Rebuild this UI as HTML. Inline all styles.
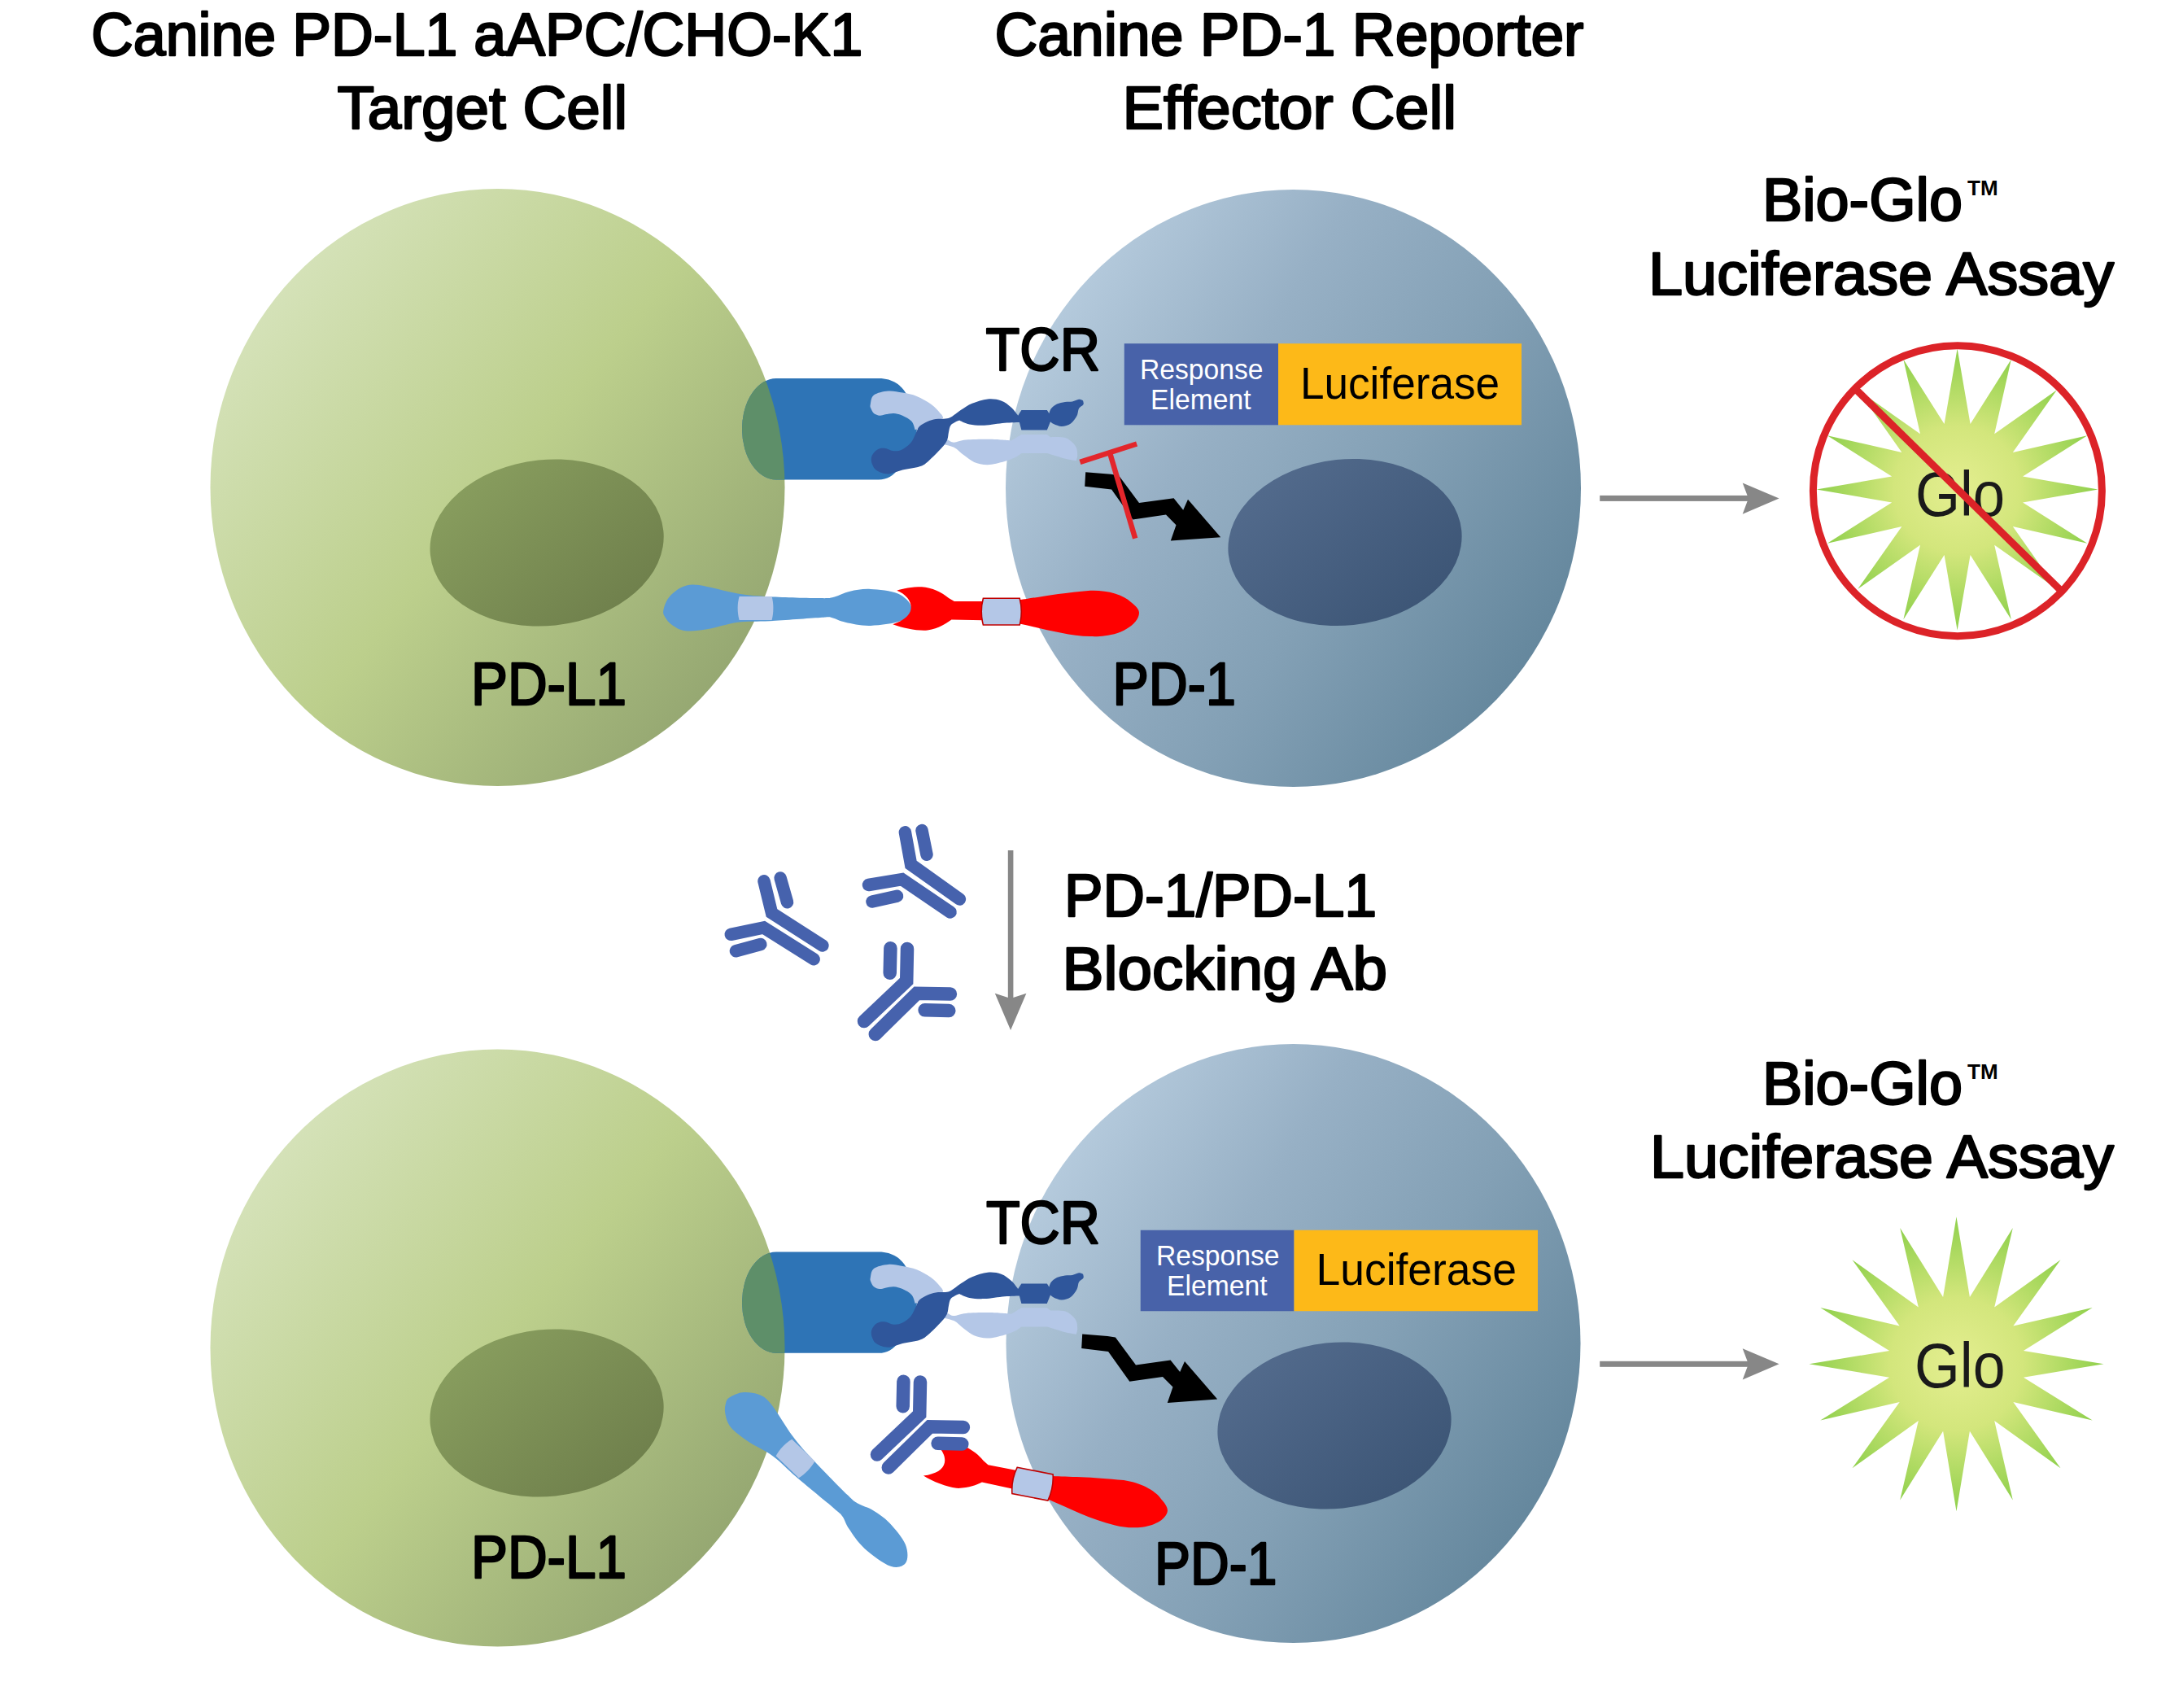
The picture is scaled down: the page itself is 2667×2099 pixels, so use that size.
<!DOCTYPE html>
<html><head><meta charset="utf-8"><style>
html,body{margin:0;padding:0;background:#fff;}
body{width:2667px;height:2099px;overflow:hidden;}
svg{display:block;}
text{font-family:"Liberation Sans",sans-serif;}
</style></head><body>
<svg width="2667" height="2099" viewBox="0 0 2667 2099">
<defs>
<linearGradient id="gG" x1="0.03" y1="0.1" x2="0.97" y2="0.9">
<stop offset="0" stop-color="#dae6c2"/><stop offset="0.5" stop-color="#bccf8c"/><stop offset="1" stop-color="#8d9f6c"/>
</linearGradient>
<linearGradient id="gB" x1="0.05" y1="0.2" x2="0.95" y2="0.8">
<stop offset="0" stop-color="#b8cddf"/><stop offset="0.33" stop-color="#97b0c5"/><stop offset="0.62" stop-color="#83a0b5"/><stop offset="1" stop-color="#62859b"/>
</linearGradient>
<linearGradient id="nG" x1="0" y1="0" x2="1" y2="1">
<stop offset="0" stop-color="#8ca261"/><stop offset="1" stop-color="#6b7b49"/>
</linearGradient>
<linearGradient id="nB" x1="0" y1="0" x2="1" y2="1">
<stop offset="0" stop-color="#566e90"/><stop offset="1" stop-color="#395272"/>
</linearGradient>
<radialGradient id="gS" cx="0.5" cy="0.5" r="0.5">
<stop offset="0" stop-color="#e4ee90"/><stop offset="0.45" stop-color="#d3e67c"/><stop offset="1" stop-color="#8fd04c"/>
</radialGradient>
<clipPath id="cG1"><ellipse cx="611.5" cy="599" rx="353" ry="367"/></clipPath>
<clipPath id="cG2"><ellipse cx="611.5" cy="583.1" rx="353" ry="367"/></clipPath>
<g id="tcr">
<path d="M954,465 L1080,465 C1098,465 1108,474 1114,484 L1124,515 C1128,525 1128,535 1122,545 L1105,575 C1098,585 1090,589.4 1080,589.4 L954,589.4 A42,62.2 0 0 1 954,465 Z" fill="#2e74b6"/>
<path d="M1069.8,496.7 C1070.4,494.0 1070.4,488.2 1074.0,485.5 C1077.6,482.8 1085.7,481.0 1091.6,480.5 C1097.5,480.0 1103.3,481.5 1109.2,482.6 C1115.1,483.7 1120.9,484.5 1126.7,486.9 C1132.5,489.2 1139.2,493.0 1144.3,496.7 C1149.3,500.4 1154.5,506.4 1157.0,509.3 C1159.5,512.2 1159.0,514.0 1159.0,514.0 C1159.0,514.0 1145.7,519.6 1140.0,522.0 C1134.3,524.4 1124.6,528.3 1124.6,528.3 C1124.6,528.3 1123.0,520.7 1120.4,517.8 C1117.8,514.9 1112.8,512.4 1109.2,510.7 C1105.6,509.1 1102.1,508.1 1098.6,507.9 C1095.1,507.7 1091.0,508.8 1088.1,509.3 C1085.2,509.8 1083.4,510.9 1081.1,510.7 C1078.8,510.5 1075.8,509.4 1074.0,507.9 C1072.2,506.4 1070.9,503.5 1070.2,501.6 C1069.5,499.7 1069.2,499.4 1069.8,496.7 Z" fill="#b4c7e7"/>
<path d="M1158.0,537.0 C1158.0,537.0 1162.6,539.4 1165.0,540.5 C1167.4,541.6 1168.7,543.7 1172.4,543.7 C1176.1,543.7 1179.8,541.2 1187.4,540.5 C1195.0,539.8 1208.7,539.6 1218.0,539.7 C1227.3,539.9 1243.0,541.4 1243.0,541.4 C1243.0,541.4 1255.4,533.9 1255.4,533.9 C1255.4,533.9 1286.9,533.9 1286.9,533.9 C1286.9,533.9 1291.0,537.2 1291.0,537.2 C1291.0,537.2 1304.2,536.3 1309.3,538.1 C1314.4,539.9 1319.2,544.4 1321.7,548.0 C1324.2,551.6 1324.1,556.6 1324.2,559.6 C1324.3,562.6 1322.6,566.3 1322.6,566.3 C1322.6,566.3 1314.3,565.0 1309.3,563.8 C1304.3,562.5 1292.7,558.8 1292.7,558.8 C1292.7,558.8 1286.9,557.1 1286.9,557.1 C1286.9,557.1 1255.4,557.1 1255.4,557.1 C1255.4,557.1 1250.0,561.0 1250.0,561.0 C1250.0,561.0 1240.7,565.4 1234.7,567.1 C1228.7,568.8 1220.1,571.1 1213.9,571.2 C1207.7,571.3 1202.1,569.8 1197.3,567.9 C1192.5,566.0 1189.1,562.6 1184.9,559.6 C1180.8,556.6 1176.9,552.0 1172.4,549.7 C1167.9,547.4 1158.0,546.0 1158.0,546.0 C1158.0,546.0 1158.0,537.0 1158.0,537.0 Z" fill="#b4c7e7"/>
<path d="M1071.2,561.3 C1072.1,558.4 1075.0,554.6 1077.6,552.9 C1080.2,551.1 1083.2,550.6 1086.7,550.8 C1090.2,551.0 1094.8,554.1 1098.6,554.3 C1102.3,554.5 1105.7,554.0 1109.2,552.2 C1112.7,550.5 1117.0,547.0 1119.7,543.8 C1122.4,540.6 1123.6,536.5 1125.3,533.2 C1127.0,529.9 1127.5,526.5 1130.0,524.0 C1132.5,521.5 1136.7,519.5 1140.0,518.0 C1143.3,516.5 1146.3,515.6 1150.0,515.0 C1153.7,514.4 1158.8,514.9 1161.9,514.5 C1165.1,514.1 1165.8,514.3 1168.9,512.6 C1172.0,510.9 1176.4,506.9 1180.7,504.1 C1185.0,501.3 1189.3,498.1 1194.8,495.8 C1200.3,493.5 1208.0,491.0 1213.9,490.4 C1219.9,489.8 1225.7,490.7 1230.5,492.4 C1235.3,494.1 1239.5,497.6 1242.9,500.7 C1246.4,503.8 1251.2,510.7 1251.2,510.7 C1251.2,510.7 1255.4,504.1 1255.4,504.1 C1255.4,504.1 1286.9,504.1 1286.9,504.1 C1286.9,504.1 1289.4,508.2 1289.4,508.2 C1289.4,508.2 1290.4,503.9 1292.0,502.0 C1293.6,500.1 1296.2,497.8 1299.0,496.5 C1301.8,495.2 1305.8,494.5 1309.0,494.0 C1312.2,493.5 1315.2,494.0 1318.0,493.5 C1320.8,493.0 1323.8,491.0 1326.0,490.8 C1328.2,490.6 1331.0,492.4 1331.0,492.4 C1331.0,492.4 1332.3,495.4 1331.5,497.0 C1330.7,498.6 1327.3,499.7 1326.0,502.0 C1324.7,504.3 1325.2,507.9 1323.5,511.0 C1321.8,514.1 1319.1,518.3 1316.0,520.5 C1312.9,522.7 1308.5,523.9 1305.0,524.0 C1301.5,524.1 1297.3,522.0 1295.0,521.0 C1292.7,520.0 1291.0,518.2 1291.0,518.2 C1291.0,518.2 1286.9,528.5 1286.9,528.5 C1286.9,528.5 1255.4,528.5 1255.4,528.5 C1255.4,528.5 1252.9,519.0 1252.9,519.0 C1252.9,519.0 1241.9,519.2 1234.7,519.8 C1227.5,520.4 1217.0,522.4 1209.8,522.7 C1202.6,523.0 1196.6,522.5 1191.5,521.5 C1186.4,520.5 1179.1,516.5 1179.1,516.5 C1179.1,516.5 1171.2,519.6 1169.0,522.0 C1166.8,524.4 1166.8,527.8 1166.0,531.0 C1165.2,534.2 1165.5,537.7 1164.0,541.0 C1162.5,544.3 1160.9,546.5 1157.0,550.8 C1153.1,555.1 1145.2,563.1 1140.8,566.9 C1136.3,570.6 1135.6,571.5 1130.3,573.3 C1125.0,575.1 1115.7,576.0 1109.2,577.5 C1102.8,579.0 1096.9,582.3 1091.6,582.4 C1086.3,582.5 1080.9,580.2 1077.6,578.2 C1074.3,576.2 1073.1,573.3 1072.0,570.5 C1070.9,567.7 1070.3,564.2 1071.2,561.3 Z" fill="#2f569b"/>
</g>
<g id="pdl1"><path d="M815.5,749.2 C816.4,745.2 818.5,738.4 822.5,733.7 C826.5,729.0 833.3,723.5 839.4,721.1 C845.5,718.7 847.8,717.7 859.0,719.1 C870.2,720.5 892.3,727.1 906.8,729.5 C921.3,731.9 929.3,732.3 946.2,733.2 C963.1,734.1 994.9,735.0 1008.0,735.1 C1021.1,735.2 1018.8,735.1 1024.9,733.7 C1031.0,732.3 1037.1,728.3 1044.6,726.7 C1052.1,725.1 1060.1,723.4 1069.9,723.9 C1079.7,724.4 1095.2,725.8 1103.6,729.5 C1111.9,733.2 1119.1,740.5 1120.0,746.0 C1120.9,751.5 1117.5,758.5 1109.2,762.3 C1100.9,766.1 1081.6,768.5 1069.9,768.9 C1058.2,769.3 1047.0,766.4 1039.0,764.7 C1031.0,763.1 1027.3,760.0 1022.1,759.0 C1016.9,758.0 1020.6,758.3 1008.0,759.0 C995.4,759.7 963.1,762.3 946.2,763.3 C929.3,764.2 919.4,763.1 906.8,764.7 C894.1,766.3 881.1,771.3 870.3,773.1 C859.5,774.9 849.7,776.2 842.2,775.3 C834.7,774.4 829.5,770.5 825.3,767.5 C821.1,764.5 818.5,760.6 816.9,757.6 C815.3,754.6 814.6,753.2 815.5,749.2 Z" fill="#5b9bd5"/><path d="M908.6,732.9 L948.6,732.9 C951,742 951,752 948.6,762.1 L908.6,762.1 C906,752 906,742 908.6,732.9 Z" fill="#b4c7e7"/></g>
<g id="pd1"><path d="M1102.3,725.7 C1110,723 1120,721.2 1133,721.2 C1145,722 1158,728 1166,735 L1172.8,739 L1208.4,739 L1253.2,737.3 C1270,735 1300,729 1340,725.7 C1360,725 1380,730 1390,740 C1398,746 1400,750 1400,753.1 C1400,762 1390,772 1373.5,778 C1360,782 1350,782.5 1340,782.1 C1310,781 1280,772 1253.2,766.4 L1208.4,762.2 L1169.4,761.4 C1163,766 1155,772 1140,774.5 C1128,775.5 1110,772 1097.3,767.2 C1112,762 1119.7,755 1119.7,746.4 C1119.7,738 1113,730 1102.3,725.7 Z" fill="#ff0000"/><path d="M1208.4,735.2 L1253.2,735.2 C1256,746 1256,757 1253.2,768 L1208.4,768 C1205.5,757 1205.5,746 1208.4,735.2 Z" fill="#b4c7e7" stroke="#c00000" stroke-width="1.6"/></g>
<polygon id="bolt" points="1334.2,580.3 1365.2,582.8 1374.9,584.2 1400,618.1 1442.6,612.3 1454.2,626.8 1460,613.7 1500.2,660.2 1438.8,664.6 1445.5,645.2 1433,632.6 1392.3,638.4 1366.1,601.6 1333.2,597.8" fill="#000"/>
</defs>
<!-- cells -->
<ellipse cx="611.5" cy="599" rx="353" ry="367" fill="url(#gG)"/>
<ellipse cx="672" cy="667" rx="144" ry="102" fill="url(#nG)" transform="rotate(-6 672 666)"/>
<ellipse cx="1589.5" cy="600" rx="353.5" ry="367" fill="url(#gB)"/>
<ellipse cx="1653" cy="666.5" rx="144" ry="102" fill="url(#nB)" transform="rotate(-6 1653 666.5)"/>
<ellipse cx="611.5" cy="1656.5" rx="353" ry="367" fill="url(#gG)"/>
<ellipse cx="672" cy="1736.5" rx="144" ry="102.5" fill="url(#nG)" transform="rotate(-6 672 1736)"/>
<ellipse cx="1589.5" cy="1651" rx="353" ry="368" fill="url(#gB)"/>
<ellipse cx="1640" cy="1752" rx="144" ry="102" fill="url(#nB)" transform="rotate(-6 1640 1752)"/>
<!-- complexes -->
<use href="#tcr"/>
<use href="#tcr" transform="translate(0,1073.4)"/>
<path d="M954,465 L1080,465 C1098,465 1108,474 1114,484 L1124,515 C1128,525 1128,535 1122,545 L1105,575 C1098,585 1090,589.4 1080,589.4 L954,589.4 A42,62.2 0 0 1 954,465 Z" fill="#5e8f69" clip-path="url(#cG1)"/>
<path d="M954,465 L1080,465 C1098,465 1108,474 1114,484 L1124,515 C1128,525 1128,535 1122,545 L1105,575 C1098,585 1090,589.4 1080,589.4 L954,589.4 A42,62.2 0 0 1 954,465 Z" fill="#5e8f69" clip-path="url(#cG2)" transform="translate(0,1073.4)"/>
<use href="#pdl1"/>
<use href="#pd1"/>
<use href="#pdl1" transform="translate(977.5,1792.5) rotate(43.8) scale(0.975) translate(-928.6,-747.5)"/>
<use href="#pd1" transform="translate(1269,1823.7) rotate(11) translate(-1230.8,-751.6)"/>
<!-- bolts -->
<use href="#bolt"/>
<use href="#bolt" transform="translate(-4,1059.3)"/>
<g stroke="#e3262b" stroke-width="6.5" stroke-linecap="butt">
<line x1="1327.4" y1="567.8" x2="1397.1" y2="545.5"/>
<line x1="1364.2" y1="557.1" x2="1395.2" y2="661.7"/>
</g>
<!-- boxes -->
<rect x="1381.75" y="422.2" width="189.25" height="100.1" fill="#4862a9"/>
<rect x="1571" y="422.2" width="299" height="100.1" fill="#fdb918"/>
<rect x="1401.75" y="1511.75" width="188.75" height="99.5" fill="#4862a9"/>
<rect x="1590.5" y="1511.75" width="299.5" height="99.5" fill="#fdb918"/>
<!-- antibodies -->
<g fill="none" stroke="#4662ad" stroke-width="15.5" stroke-linecap="round" stroke-linejoin="miter"><polyline points="939.0,1082.8 948.5,1122.0 1010.9,1162.0"/><polyline points="959.1,1079.0 967.5,1108.7"/><polyline points="898.3,1148.3 938.6,1139.9 1000.2,1178.7"/><polyline points="904.4,1168.8 934.8,1160.5"/></g>
<g fill="none" stroke="#4662ad" stroke-width="15.5" stroke-linecap="round" stroke-linejoin="miter"><polyline points="1112.4,1022.8 1119.6,1062.4 1179.4,1105.0"/><polyline points="1133.0,1020.5 1139.0,1050.2"/><polyline points="1067.5,1087.5 1108.6,1080.7 1168.0,1121.0"/><polyline points="1072.0,1108.0 1102.5,1101.2"/></g>
<g fill="none" stroke="#4662ad" stroke-width="16.5" stroke-linecap="round" stroke-linejoin="miter"><polyline points="1115.0,1166.0 1114.2,1205.6 1062.0,1255.0"/><polyline points="1094.4,1165.2 1093.7,1195.7"/><polyline points="1167.9,1221.5 1126.8,1220.8 1075.8,1271.0"/><polyline points="1136.6,1241.3 1166.3,1242.1"/></g>
<g fill="none" stroke="#4662ad" stroke-width="16.5" stroke-linecap="round" stroke-linejoin="miter"><polyline points="1131.0,1698.5 1130.2,1738.1 1078.0,1787.5"/><polyline points="1110.4,1697.7 1109.7,1728.2"/><polyline points="1183.9,1754.0 1142.8,1753.3 1091.8,1803.5"/><polyline points="1152.6,1773.8 1182.3,1774.6"/></g>
<!-- arrows -->
<g fill="#878787">
<rect x="1966.2" y="608.9" width="185" height="7"/>
<polygon points="2141.7,593.4 2186.6,612.5 2141.7,631.7 2148.9,612.5"/>
<rect x="1966.2" y="1672.8" width="185" height="7"/>
<polygon points="2141.7,1657.3 2186.6,1676.3 2141.7,1695.5 2148.9,1676.3"/>
<rect x="1238.8" y="1045" width="6.6" height="186"/>
<polygon points="1222.8,1220.8 1242.1,1266 1261.4,1220.8 1242.1,1227"/>
</g>
<!-- stars -->
<polygon points="2405.6,428.5 2421.6,521.1 2471.8,441.7 2451.2,533.3 2527.9,479.2 2473.8,555.9 2565.4,535.3 2486.0,585.5 2578.6,601.5 2486.0,617.5 2565.4,667.7 2473.8,647.1 2527.9,723.8 2451.2,669.7 2471.8,761.3 2421.6,681.9 2405.6,774.5 2389.6,681.9 2339.4,761.3 2360.0,669.7 2283.3,723.8 2337.4,647.1 2245.8,667.7 2325.2,617.5 2232.6,601.5 2325.2,585.5 2245.8,535.3 2337.4,555.9 2283.3,479.2 2360.0,533.3 2339.4,441.7 2389.6,521.1" fill="url(#gS)"/>
<polygon points="2404.5,1495.3 2420.9,1593.9 2473.8,1509.1 2451.2,1606.5 2532.5,1548.3 2474.3,1629.6 2571.7,1607.0 2486.9,1659.9 2585.5,1676.3 2486.9,1692.7 2571.7,1745.6 2474.3,1723.0 2532.5,1804.3 2451.2,1746.1 2473.8,1843.5 2420.9,1758.7 2404.5,1857.3 2388.1,1758.7 2335.2,1843.5 2357.8,1746.1 2276.5,1804.3 2334.7,1723.0 2237.3,1745.6 2322.1,1692.7 2223.5,1676.3 2322.1,1659.9 2237.3,1607.0 2334.7,1629.6 2276.5,1548.3 2357.8,1606.5 2335.2,1509.1 2388.1,1593.9" fill="url(#gS)"/>
<!-- texts -->
<text x="112.0" y="67.9" font-size="73.5" fill="#000" stroke="#000" stroke-width="2.4" stroke-linejoin="round" textLength="948.5" lengthAdjust="spacingAndGlyphs">Canine PD-L1 aAPC/CHO-K1</text>
<text x="414.5" y="157.8" font-size="73.5" fill="#000" stroke="#000" stroke-width="2.4" stroke-linejoin="round" textLength="356.5" lengthAdjust="spacingAndGlyphs">Target Cell</text>
<text x="1222.5" y="67.9" font-size="73.5" fill="#000" stroke="#000" stroke-width="2.4" stroke-linejoin="round" textLength="724.0" lengthAdjust="spacingAndGlyphs">Canine PD-1 Reporter</text>
<text x="1379.5" y="157.8" font-size="73.5" fill="#000" stroke="#000" stroke-width="2.4" stroke-linejoin="round" textLength="410.5" lengthAdjust="spacingAndGlyphs">Effector Cell</text>
<text x="2166.0" y="271.1" font-size="73.5" fill="#000" stroke="#000" stroke-width="2.4" stroke-linejoin="round" textLength="246.0" lengthAdjust="spacingAndGlyphs">Bio-Glo</text>
<text x="2026.0" y="361.8" font-size="73.5" fill="#000" stroke="#000" stroke-width="2.4" stroke-linejoin="round" textLength="572.0" lengthAdjust="spacingAndGlyphs">Luciferase Assay</text>
<text x="2166.0" y="1356.8" font-size="73.5" fill="#000" stroke="#000" stroke-width="2.4" stroke-linejoin="round" textLength="246.0" lengthAdjust="spacingAndGlyphs">Bio-Glo</text>
<text x="2028.0" y="1446.8" font-size="73.5" fill="#000" stroke="#000" stroke-width="2.4" stroke-linejoin="round" textLength="570.0" lengthAdjust="spacingAndGlyphs">Luciferase Assay</text>
<text x="1211.5" y="454.8" font-size="73.5" fill="#000" stroke="#000" stroke-width="2.4" stroke-linejoin="round" textLength="140.5" lengthAdjust="spacingAndGlyphs">TCR</text>
<text x="1212.0" y="1527.6" font-size="73.5" fill="#000" stroke="#000" stroke-width="2.4" stroke-linejoin="round" textLength="140.0" lengthAdjust="spacingAndGlyphs">TCR</text>
<text x="579.0" y="865.6" font-size="73.5" fill="#000" stroke="#000" stroke-width="2.4" stroke-linejoin="round" textLength="191.0" lengthAdjust="spacingAndGlyphs">PD-L1</text>
<text x="1367.5" y="865.6" font-size="73.5" fill="#000" stroke="#000" stroke-width="2.4" stroke-linejoin="round" textLength="151.5" lengthAdjust="spacingAndGlyphs">PD-1</text>
<text x="579.0" y="1938.6" font-size="73.5" fill="#000" stroke="#000" stroke-width="2.4" stroke-linejoin="round" textLength="191.0" lengthAdjust="spacingAndGlyphs">PD-L1</text>
<text x="1419.0" y="1946.8" font-size="73.5" fill="#000" stroke="#000" stroke-width="2.4" stroke-linejoin="round" textLength="150.5" lengthAdjust="spacingAndGlyphs">PD-1</text>
<text x="1308.0" y="1125.6" font-size="73.5" fill="#000" stroke="#000" stroke-width="2.4" stroke-linejoin="round" textLength="384.0" lengthAdjust="spacingAndGlyphs">PD-1/PD-L1</text>
<text x="1305.5" y="1215.8" font-size="73.5" fill="#000" stroke="#000" stroke-width="2.4" stroke-linejoin="round" textLength="399.5" lengthAdjust="spacingAndGlyphs">Blocking Ab</text>
<text x="1401.0" y="466" font-size="35" font-weight="normal" fill="#fff" textLength="151.5" lengthAdjust="spacingAndGlyphs">Response</text>
<text x="1414.0" y="502.8" font-size="35" font-weight="normal" fill="#fff" textLength="123.5" lengthAdjust="spacingAndGlyphs">Element</text>
<text x="1598.0" y="490" font-size="55" font-weight="normal" fill="#000" textLength="245.0" lengthAdjust="spacingAndGlyphs">Luciferase</text>
<text x="1421.0" y="1555.2" font-size="35" font-weight="normal" fill="#fff" textLength="151.5" lengthAdjust="spacingAndGlyphs">Response</text>
<text x="1434.0" y="1592.3" font-size="35" font-weight="normal" fill="#fff" textLength="123.5" lengthAdjust="spacingAndGlyphs">Element</text>
<text x="1617.5" y="1579.4" font-size="55" font-weight="normal" fill="#000" textLength="246.5" lengthAdjust="spacingAndGlyphs">Luciferase</text>
<text x="2354.0" y="634.2" font-size="78" font-weight="normal" fill="#1a1a1a" textLength="110.0" lengthAdjust="spacingAndGlyphs">Glo</text>
<text x="2353.0" y="1705" font-size="78" font-weight="normal" fill="#1a1a1a" textLength="111.5" lengthAdjust="spacingAndGlyphs">Glo</text>
<text x="2418" y="239.5" font-size="26" font-weight="bold">TM</text>
<text x="2418" y="1325.5" font-size="26" font-weight="bold">TM</text>
<!-- no sign -->
<g fill="none" stroke="#dc2328" stroke-width="9">
<ellipse cx="2405.9" cy="603.2" rx="177.5" ry="178.5"/>
<line x1="2282" y1="479.6" x2="2531.5" y2="724.4"/>
</g>
</svg>
</body></html>
